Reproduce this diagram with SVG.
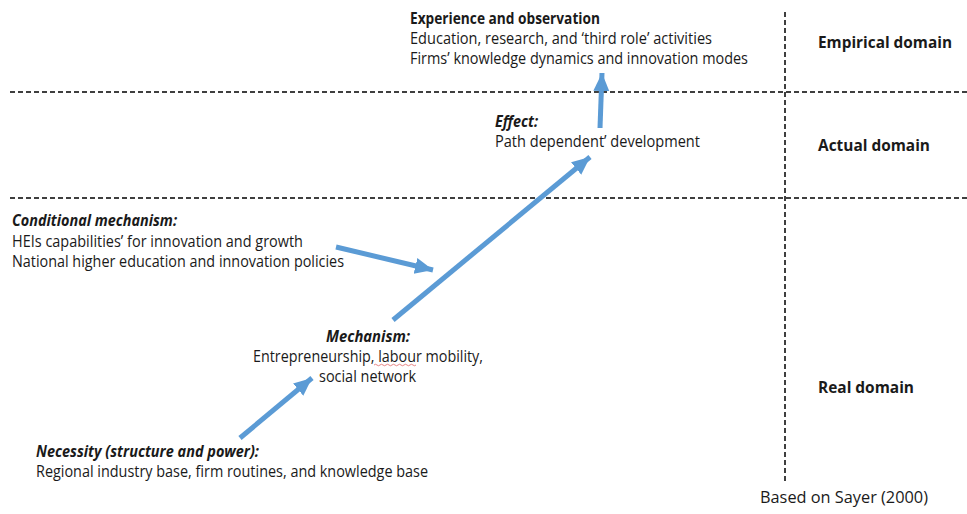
<svg xmlns="http://www.w3.org/2000/svg" width="967" height="514" viewBox="0 0 967 514">
<defs>
<style>
text{font-family:"Open Sans","Liberation Sans",sans-serif;font-size:15.5px;fill:#1a1a1a}
.b{font-weight:bold}
.bi{font-weight:bold;font-style:italic}
.dash{stroke:#000;stroke-width:1.5;stroke-dasharray:5 3;fill:none}
.arr{stroke:#5B9BD5;stroke-width:5;fill:none;marker-end:url(#ah)}
</style>
<marker id="ah" markerUnits="userSpaceOnUse" markerWidth="20" markerHeight="20" viewBox="0 0 20 20" refX="18" refY="10" orient="auto">
<path d="M0,2 L18,10 L0,18 z" fill="#5B9BD5"/>
</marker>
</defs>
<rect width="967" height="514" fill="#fff"/>
<g id="grid">
<line class="dash" x1="10" y1="92" x2="967" y2="92"/>
<line class="dash" x1="10" y1="198" x2="967" y2="198"/>
<line class="dash" x1="785" y1="12" x2="785" y2="483"/>
</g>
<g id="connectors">
<line class="arr" x1="240" y1="438" x2="312" y2="378"/>
<line class="arr" x1="393" y1="320" x2="590" y2="157"/>
<line class="arr" x1="336" y1="247" x2="433" y2="270"/>
<line class="arr" x1="600" y1="128" x2="602" y2="73"/>
</g>
<g id="experience">
<text class="b" x="410" y="24" textLength="190" lengthAdjust="spacingAndGlyphs">Experience and observation</text>
<text x="410" y="44" textLength="302" lengthAdjust="spacingAndGlyphs">Education, research, and ‘third role’ activities</text>
<text x="410" y="64" textLength="338" lengthAdjust="spacingAndGlyphs">Firms’ knowledge dynamics and innovation modes</text>
</g>
<g id="effect">
<text class="bi" x="495" y="127" textLength="43" lengthAdjust="spacingAndGlyphs">Effect:</text>
<text x="495" y="147" textLength="205" lengthAdjust="spacingAndGlyphs">Path dependent’ development</text>
</g>
<g id="conditional">
<text class="bi" x="12" y="226" textLength="165" lengthAdjust="spacingAndGlyphs">Conditional mechanism:</text>
<text x="12" y="247" textLength="291" lengthAdjust="spacingAndGlyphs">HEIs capabilities’ for innovation and growth</text>
<text x="12" y="267" textLength="332" lengthAdjust="spacingAndGlyphs">National higher education and innovation policies</text>
</g>
<g id="mechanism">
<text class="bi" x="326" y="342" textLength="84" lengthAdjust="spacingAndGlyphs">Mechanism:</text>
<text x="253" y="362" textLength="230" lengthAdjust="spacingAndGlyphs">Entrepreneurship, labour mobility,</text>
<text x="319" y="382" textLength="97" lengthAdjust="spacingAndGlyphs">social network</text>
<path d="M374,365 q1.5,-1.5 3,0 t3,0 t3,0 t3,0 t3,0 t3,0 t3,0 t3,0 t3,0 t3,0 t3,0 t3,0 t3,0 t3,0" stroke="#e06666" stroke-width="0.8" fill="none"/>
</g>
<g id="necessity">
<text class="bi" x="36" y="457" textLength="223" lengthAdjust="spacingAndGlyphs">Necessity (structure and power):</text>
<text x="36" y="477" textLength="392" lengthAdjust="spacingAndGlyphs">Regional industry base, firm routines, and knowledge base</text>
</g>
<g id="domains">
<text class="b" x="818" y="48" textLength="134" lengthAdjust="spacingAndGlyphs">Empirical domain</text>
<text class="b" x="818" y="151" textLength="112" lengthAdjust="spacingAndGlyphs">Actual domain</text>
<text class="b" x="818" y="393" textLength="96" lengthAdjust="spacingAndGlyphs">Real domain</text>
</g>
<g id="source">
<text x="760" y="503" textLength="168" lengthAdjust="spacingAndGlyphs">Based on Sayer (2000)</text>
</g>
</svg>
